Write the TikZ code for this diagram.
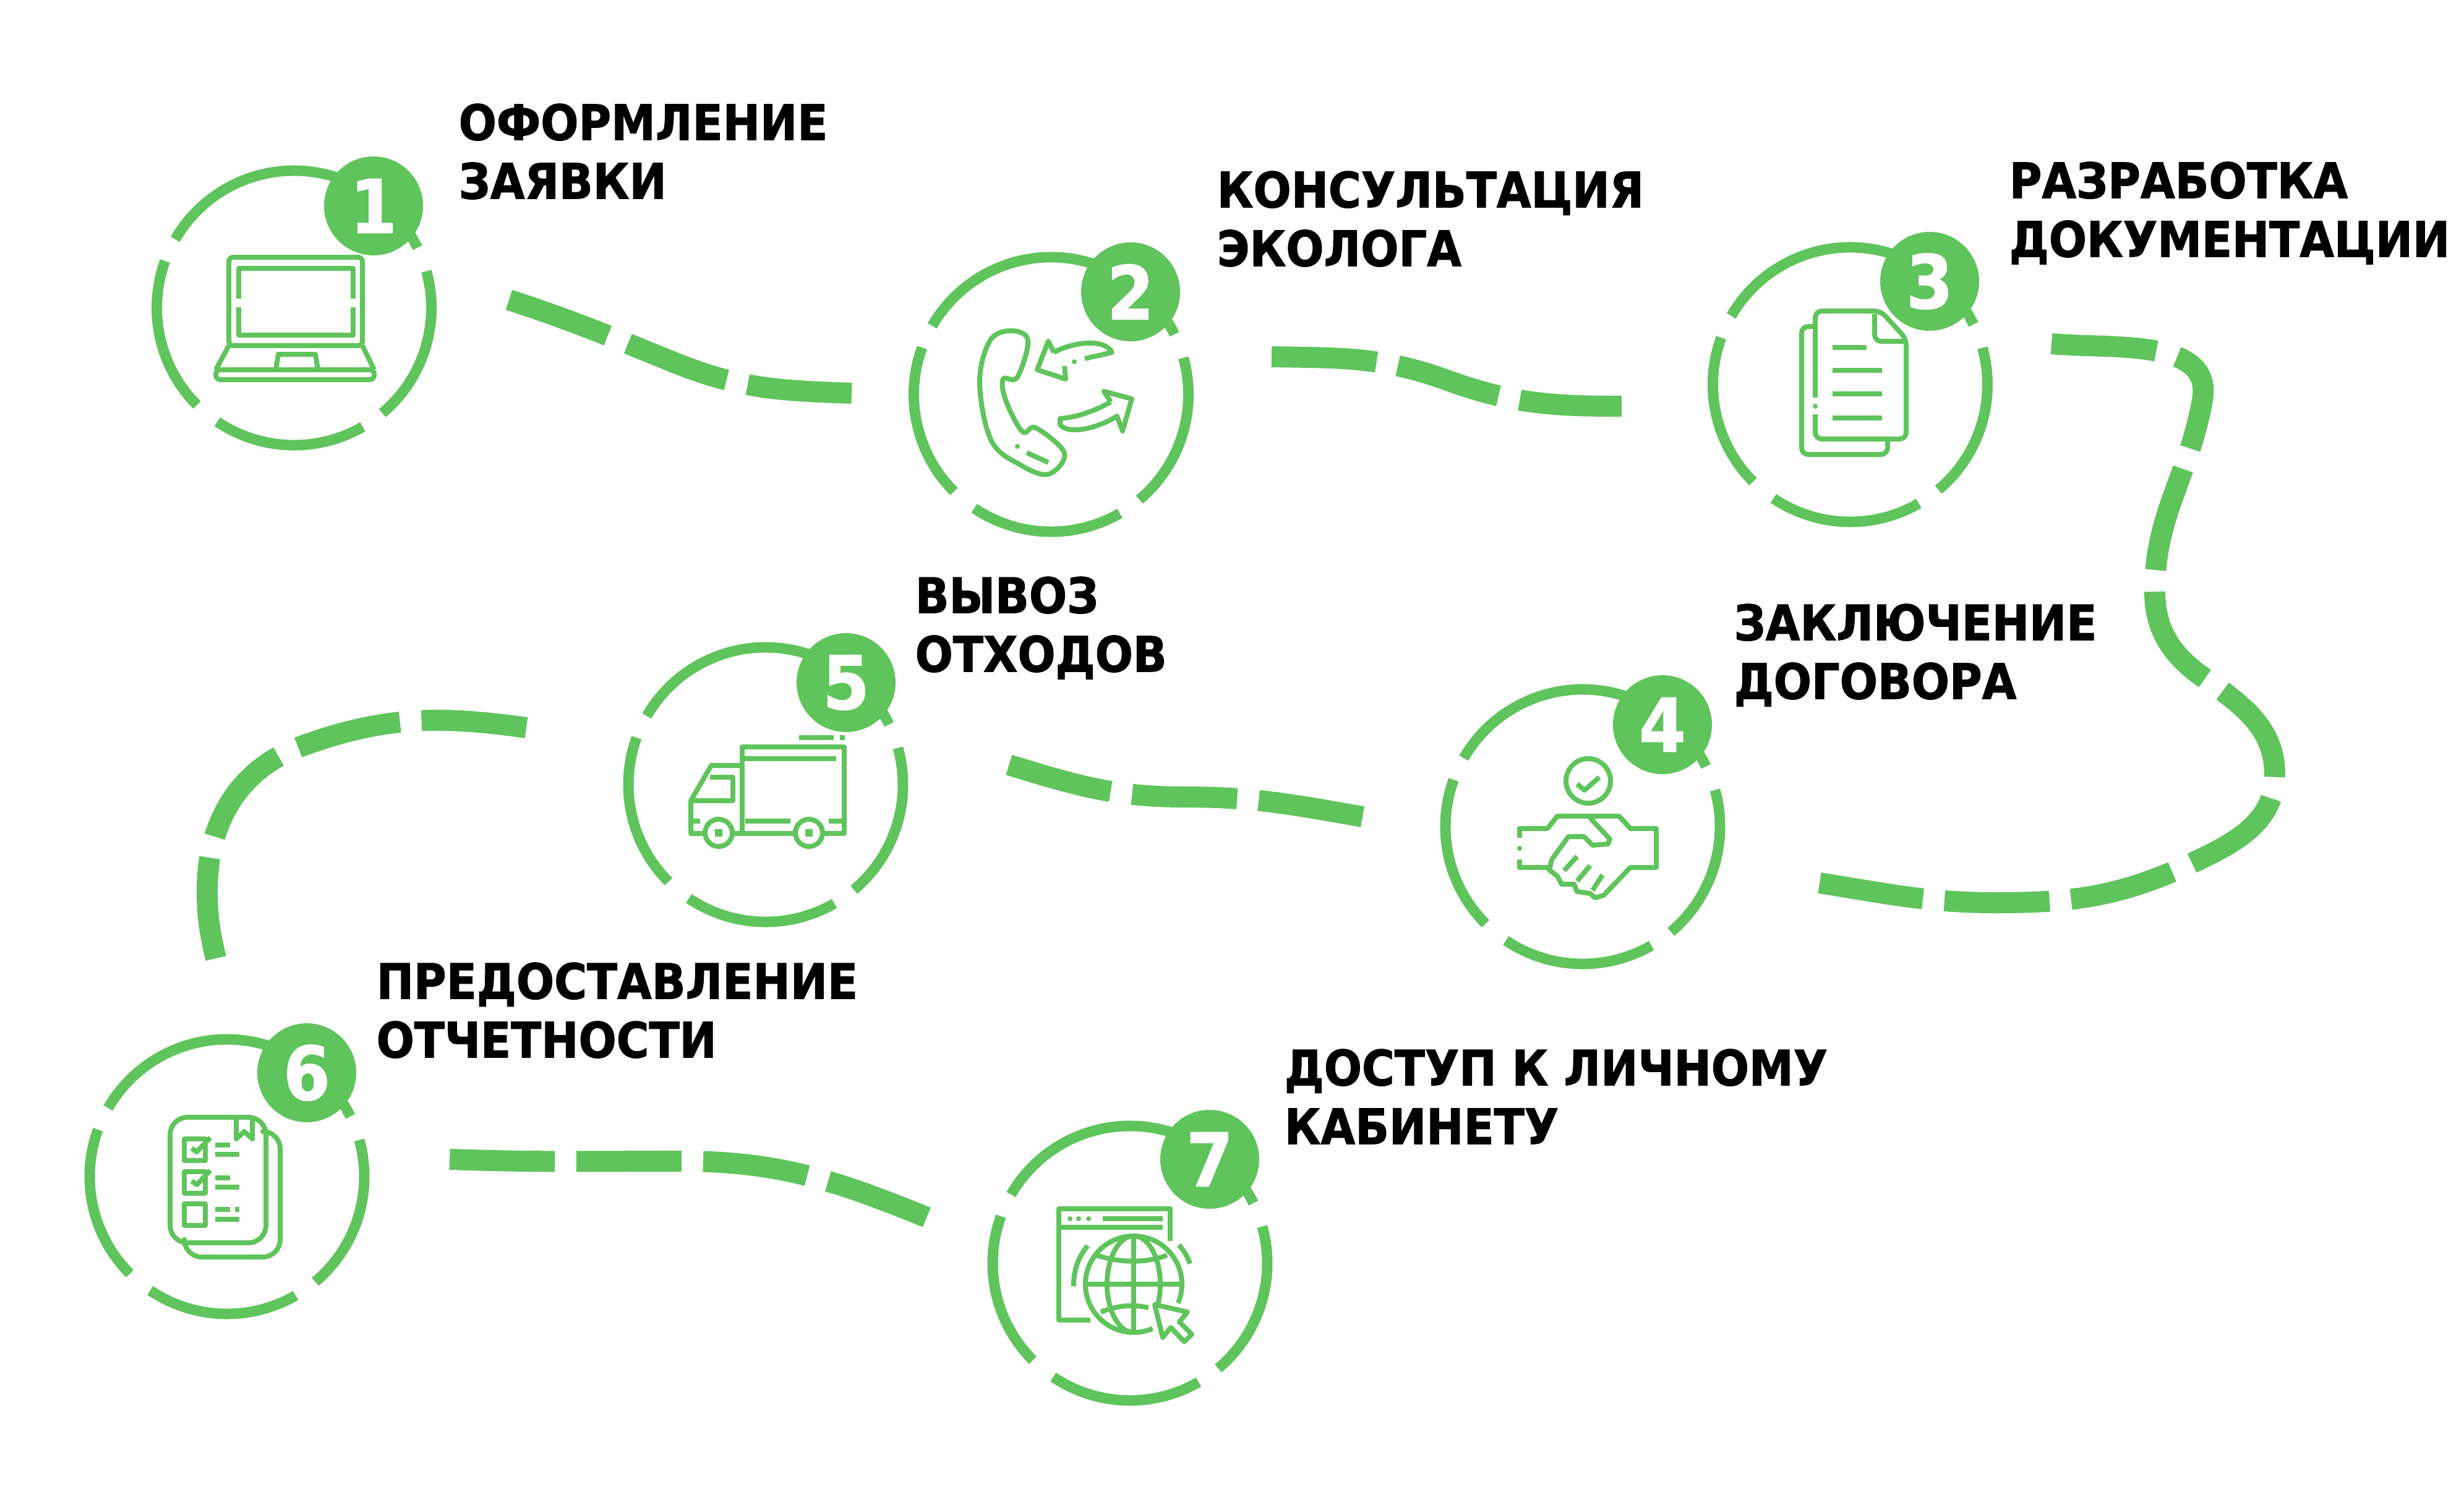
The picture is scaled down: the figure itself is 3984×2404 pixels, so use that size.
\documentclass[tikz,border=0pt]{standalone}
\usepackage{fontspec}
\usetikzlibrary{calc}
\newfontfamily\labfont{DejaVu Sans}[FakeStretch=.91,BoldFeatures={FakeBold=1.3}]
\definecolor{leaf}{RGB}{96,196,92}
\tikzset{
  ringarc/.style = {draw=leaf, line width=1.7mm},
  trail/.style   = {draw=leaf, line width=3.4mm, dash pattern=on 17mm off 3.5mm},
  badge/.style   = {circle, fill=leaf, text=white, inner sep=0pt, minimum size=16mm,
                    font=\labfont\bfseries\fontsize{34}{34}\selectfont},
  lab/.style     = {anchor=north west, inner sep=0pt, align=left, text=black,
                    font=\labfont\bfseries\fontsize{22.5}{27}\selectfont,
                    execute at begin node=\rule{0pt}{18pt}},
  icon/.style    = {draw=leaf, line width=.8mm, line join=round},
  icondot/.style = {fill=leaf},
}
\begin{document}
\begin{tikzpicture}[x=.1mm,y=.1mm]
  \useasboundingbox (0,0) rectangle (3984,-2404);
  % stations
  \foreach \n/\cx/\cy/\bx/\by in {1/475.5/498/604/333, 2/1699.5/638/1828/472, 3/2991.5/622/3120/455,
    4/2559/1337/2688/1172, 5/1238/1269/1368/1104, 6/367/1903/496/1735, 7/1827/2043/1956/1875}
  {
    \coordinate (ring\n) at (\cx,-\cy);
    \foreach \a/\b in {26/150,160/225,236/300,310/375.5}
      {\draw[ringarc] ($(ring\n)+(\a:222)$) arc (\a:\b:222);}
    \node[badge] (badge\n) at (\bx,-\by) {\n};
  }
  % labels
  \foreach \n/\lx/\ly/\txt in {1/741/167/{ОФОРМЛЕНИЕ\\ЗАЯВКИ}, 2/1967/276/{КОНСУЛЬТАЦИЯ\\ЭКОЛОГА},
    3/3248/261/{РАЗРАБОТКА\\ДОКУМЕНТАЦИИ}, 4/2803/976/{ЗАКЛЮЧЕНИЕ\\ДОГОВОРА},
    5/1479/932/{ВЫВОЗ\\ОТХОДОВ}, 6/608/1556/{ПРЕДОСТАВЛЕНИЕ\\ОТЧЕТНОСТИ},
    7/2076/1696/{ДОСТУП К ЛИЧНОМУ\\КАБИНЕТУ}}
    {\node[lab] (lab\n) at (\lx,-\ly) {\txt};}
  % trail ends
  \coordinate (t12a) at (823,-485);   \coordinate (t12m) at (1092,-587);  \coordinate (t12b) at (1377,-636);
  \coordinate (t23a) at (2056,-577);  \coordinate (t23m) at (2340,-615);  \coordinate (t23b) at (2622,-657);
  \coordinate (t34a) at (3317,-556);  \coordinate (t34b) at (3561,-647);  \coordinate (t34c) at (3484,-956);
  \coordinate (t34d) at (3563,-1096); \coordinate (t34e) at (3678,-1253); \coordinate (t34f) at (3544,-1396);
  \coordinate (t34g) at (3228,-1460); \coordinate (t34h) at (2942,-1428);
  \coordinate (t45a) at (2203,-1321); \coordinate (t45m) at (1915,-1289); \coordinate (t45b) at (1631,-1237);
  \coordinate (t56a) at (851,-1177);  \coordinate (t56b) at (487,-1207);  \coordinate (t56c) at (335,-1440);
  \coordinate (t56d) at (349,-1550);
  \coordinate (t67a) at (727,-1875);  \coordinate (t67m) at (1100,-1878); \coordinate (t67b) at (1499,-1969);
  % trails
  \draw[trail] (t12a) to[out=-18,in=158] (t12m) to[out=-22,in=178] (t12b);
  \draw[trail] (t23a) to[out=-1,in=160] (t23m) to[out=-20,in=180] (t23b);
  \draw[trail] (t34a) to[out=-5,in=80] (t34b) to[out=-100,in=90] (t34c) to[out=-90,in=145] (t34d)
    to[out=-35,in=90] (t34e) to[out=-90,in=25] (t34f) to[out=-155,in=0] (t34g) to[out=180,in=-9] (t34h);
  \draw[trail] (t45a) to[out=170,in=0] (t45m) to[out=180,in=-17] (t45b);
  \draw[trail] (t56a) to[out=172,in=20] (t56b) to[out=200,in=90] (t56c) to[out=270,in=103] (t56d);
  \draw[trail] (t67a) to[out=-2,in=180] (t67m) to[out=0,in=158] (t67b);
  % laptop
  \draw[icon,rounded corners=2] (370,-559) rectangle (586,-416);
  \draw[icon] (386,-483) -- (386,-434) -- (571,-434) -- (571,-483)
    (571,-497) -- (571,-542) -- (386,-542) -- (386,-497);
  \draw[icon] (370,-559) -- (349,-598) (586,-559) -- (605,-598);
  \draw[icon,rounded corners=2] (349,-598) rectangle (605,-614);
  \draw[icon] (446,-598) -- (450,-573) -- (510,-573) -- (514,-598);
  % phone
  \draw[icon] plot[smooth cycle,tension=.6] coordinates {(1633,-535) (1600,-552) (1584,-620) (1603,-713)
    (1650,-752) (1695,-767) (1721,-733) (1675,-692) (1653,-698) (1626,-647) (1622,-613)
    (1645,-610) (1662,-550)};
  \fill[icondot] (1645,-722) circle (4);
  \draw[icon] (1660,-732) -- (1695,-748);
  \draw[icon] (1704,-570) -- (1695,-552) -- (1677,-598) -- (1723,-613) -- (1721,-592);
  \draw[icon] (1704,-570) .. controls (1730,-555) and (1785,-545) .. (1798,-570) -- (1754,-580);
  \fill[icondot] (1737,-585) circle (4);
  \draw[icon] (1796,-650) -- (1785,-633) -- (1830,-645) -- (1815,-697) -- (1806,-673)
    .. controls (1780,-690) and (1730,-705) .. (1714,-687) -- (1714,-677)
    .. controls (1740,-675) and (1770,-665) .. (1796,-650);
  % document
  \draw[icon,rounded corners=3] (2935,-643) -- (2935,-503) -- (3041,-503) -- (3082,-548) -- (3082,-710)
    -- (2935,-710) -- (2935,-670);
  \fill[icondot] (2935,-657) circle (4);
  \draw[icon,rounded corners=3] (3031,-508) -- (3031,-552) -- (3079,-552);
  \draw[icon,rounded corners=3] (2933,-528) -- (2913,-528) -- (2913,-735) -- (3052,-735) -- (3052,-710);
  \draw[icon] (2963,-562) -- (3018,-562) (2963,-599) -- (3043,-599) (2963,-637) -- (3043,-637)
    (2963,-676) -- (3043,-676);
  % handshake
  \draw[icon] (2568,-1263) circle (36);
  \draw[icon] (2550,-1268) -- (2562,-1278) -- (2586,-1257);
  \draw[icon] (2457,-1355) -- (2457,-1340) -- (2502,-1340) -- (2518,-1320) -- (2618,-1320) -- (2636,-1340)
    -- (2678,-1340) -- (2678,-1403) -- (2636,-1403) -- (2593,-1448) -- (2579,-1452) -- (2571,-1445)
    -- (2550,-1442) -- (2545,-1430) -- (2525,-1430) -- (2518,-1417) -- (2505,-1407) -- (2509,-1390)
    -- (2536,-1353) -- (2561,-1353) -- (2575,-1367) -- (2600,-1365) -- (2603,-1357) -- (2571,-1323);
  \draw[icon] (2457,-1390) -- (2457,-1403) -- (2505,-1403);
  \fill[icondot] (2457,-1372) circle (4);
  \draw[icon] (2529,-1408) -- (2550,-1385) (2550,-1425) -- (2571,-1400) (2575,-1440) -- (2591,-1415);
  % truck
  \draw[icon] (1292,-1193) -- (1348,-1193) (1358,-1193) -- (1366,-1193);
  \draw[icon] (1200,-1348) -- (1200,-1208) -- (1365,-1208) -- (1365,-1348) -- (1330,-1348);
  \draw[icon] (1203,-1227) -- (1352,-1227);
  \draw[icon] (1200,-1238) -- (1150,-1238) -- (1117,-1295) -- (1117,-1348) -- (1140,-1348);
  \draw[icon] (1148,-1257) -- (1185,-1257) -- (1185,-1295) -- (1117,-1295);
  \draw[icon] (1184,-1348) -- (1286,-1348);
  \draw[icon] (1162,-1347) circle (22) (1308,-1347) circle (22);
  \fill[icondot] (1156,-1353) rectangle (1168,-1341) (1302,-1353) rectangle (1314,-1341);
  \draw[icon] (1120,-1328) -- (1132,-1328) (1205,-1328) -- (1278,-1328) (1340,-1328) -- (1362,-1328);
  % checklist
  \draw[icon,rounded corners=8] (275,-1807) rectangle (430,-2010);
  \draw[icon,rounded corners=8] (432,-1830) -- (453,-1830) -- (453,-2033) -- (298,-2033) -- (298,-2010);
  \draw[icon] (382,-1808) -- (382,-1842) -- (395,-1830) -- (408,-1842) -- (408,-1808);
  \foreach \yy in {1842,1895,1947}
    {\draw[icon] (298,-\yy) rectangle (332,-\yy-35);}
  \foreach \yy in {1842,1895}
    {\draw[icon] (310,-\yy-15) -- (318,-\yy-21) -- (340,-\yy+2);}
  \draw[icon] (348,-1852) -- (372,-1852) (348,-1867) -- (387,-1867) (348,-1905) -- (372,-1905)
    (348,-1920) -- (387,-1920) (348,-1956) -- (372,-1956) (380,-1956) -- (387,-1956) (348,-1972) -- (387,-1972);
  % web
  \coordinate (globe) at (1833,-2077);
  \draw[icon] (1763,-2135) -- (1712,-2135) -- (1712,-1955) -- (1892,-1955) -- (1892,-2007);
  \draw[icon] (1715,-1985) -- (1880,-1985) (1783,-1971) -- (1880,-1971);
  \foreach \xx in {1730,1744,1760}
    {\fill[icondot] (\xx,-1971) circle (4);}
  \draw[icon] ($(globe)+(-23:78)$) arc (-23:293:78);
  \draw[icon] ($(globe)+(-25:43 and 78)$) arc[start angle=-25,end angle=270,x radius=43,y radius=78];
  \draw[icon] (1833,-1999) -- (1833,-2155) (1755,-2077) -- (1911,-2077);
  \draw[icon] (1773,-2030) .. controls (1810,-2043) and (1855,-2043) .. (1887,-2030);
  \draw[icon] (1780,-2122) .. controls (1810,-2110) and (1835,-2110) .. (1857,-2115);
  \draw[icon] ($(globe)+(140:97)$) arc (140:182:97);
  \draw[icon] ($(globe)+(20:97)$) arc (20:41:97);
  \draw[icon] (1867,-2110) -- (1920,-2122) -- (1907,-2138) -- (1927,-2158) -- (1915,-2170) -- (1893,-2147)
    -- (1880,-2163) -- cycle;
\end{tikzpicture}
\end{document}
